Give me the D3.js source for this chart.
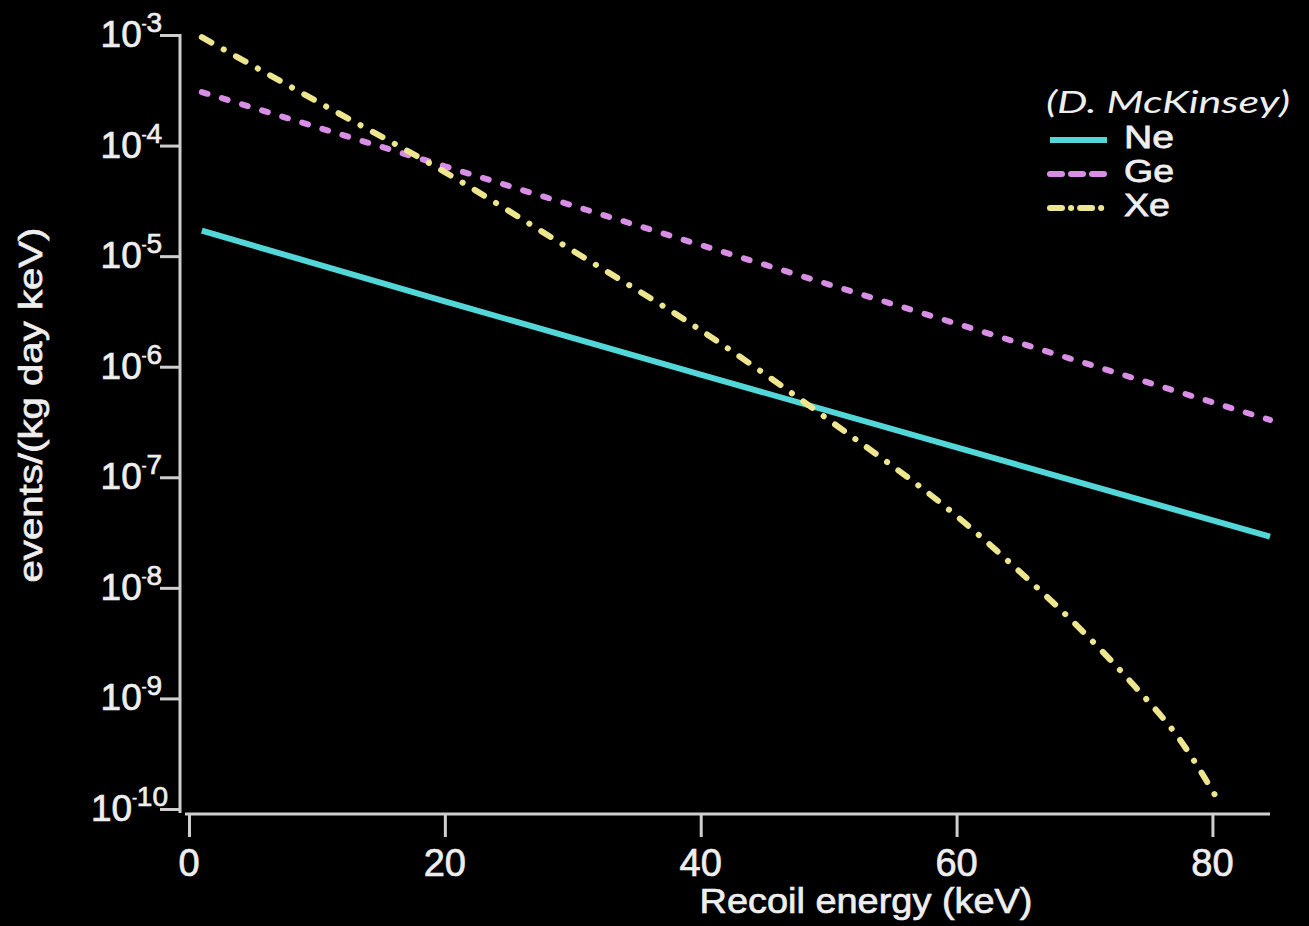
<!DOCTYPE html>
<html>
<head>
<meta charset="utf-8">
<script src="https://cdn.jsdelivr.net/npm/d3@7"></script>
<style>
  html, body { margin: 0; padding: 0; background: #000; }
  svg { display: block; }
</style>
</head>
<body>
<div id="chart"></div>
<script>
// data
const neEnergy = [1, 20, 40, 60, 84.5];
const neRate = [1.7e-5, 3.9e-6, 8.5e-7, 1.86e-7, 2.9e-8];

const geEnergy = [1, 20, 40, 60, 84.5];
const geRate = [3.05e-4, 6.5e-5, 1.26e-5, 2.45e-6, 3.3e-7];

const xeEnergy = [1, 10, 20, 30, 40, 50, 60, 65, 70, 74, 77.5, 80.5];
const xeRate = [9.55e-4, 2.51e-4, 5.75e-5, 1.12e-5, 2.14e-6, 3.31e-7, 4.47e-8, 1.38e-8, 3.89e-9, 1.26e-9, 4.17e-10, 1.17e-10];

const xTicks = [0, 20, 40, 60, 80];
const yExponents = [-3, -4, -5, -6, -7, -8, -9, -10];

const seriesNames = ["Ne", "Ge", "Xe"];
const seriesColors = ["#52d6d8", "#d98ee6", "#eee68e"];
const seriesDash = [null, "6 15", "11 14 0.1 14"];

const width = 1309, height = 926;
const axisColor = "#cfcfcf", textColor = "#eeeeee";
const sans = "'Liberation Sans', Arial, sans-serif";

const svg = d3.select("#chart").append("svg")
  .attr("width", width)
  .attr("height", height);

svg.append("rect").attr("width", width).attr("height", height).attr("fill", "#000");

const x = d3.scaleLinear().domain([0, 84.5]).range([189, 1270]);
const y = d3.scaleLog().domain([1e-10, 1e-3]).range([809, 35]);

// axes
const yAxis = d3.axisLeft(y)
  .tickValues(yExponents.map(e => Math.pow(10, e)))
  .tickSize(20)
  .tickSizeOuter(0)
  .tickFormat("");
const gy = svg.append("g").attr("transform", "translate(180,0)").call(yAxis);
gy.select(".domain").remove();
gy.selectAll(".tick line").attr("stroke", axisColor).attr("stroke-width", 3);

const xAxis = d3.axisBottom(x)
  .tickValues(xTicks)
  .tickSize(24)
  .tickSizeOuter(0)
  .tickFormat("");
const gx = svg.append("g").attr("transform", "translate(0,813)").call(xAxis);
gx.select(".domain").remove();
gx.selectAll(".tick line").attr("stroke", axisColor).attr("stroke-width", 3);

svg.append("line")
  .attr("x1", 180).attr("x2", 180).attr("y1", 34).attr("y2", 813)
  .attr("stroke", axisColor).attr("stroke-width", 3);
svg.append("line")
  .attr("x1", 185).attr("x2", 1270).attr("y1", 814).attr("y2", 814)
  .attr("stroke", axisColor).attr("stroke-width", 3);

// y tick labels, 10 with superscript exponent
const yLabels = svg.append("g")
  .attr("font-family", sans)
  .attr("fill", textColor)
  .attr("stroke", textColor)
  .attr("stroke-width", 0.7);
yExponents.forEach(e => {
  const t = yLabels.append("text")
    .attr("x", e === -10 ? 168 : 162)
    .attr("y", y(Math.pow(10, e)) + 12)
    .attr("text-anchor", "end");
  t.append("tspan").attr("font-size", 37).text("10");
  t.append("tspan").attr("font-size", 14).attr("dy", -18).text("-");
  t.append("tspan").attr("font-size", 28).attr("dy", 3).text(String(-e));
});

// x tick labels
svg.append("g")
  .selectAll("text")
  .data(xTicks)
  .join("text")
  .attr("x", d => x(d))
  .attr("y", 876)
  .attr("text-anchor", "middle")
  .attr("font-family", sans)
  .attr("font-size", 38)
  .attr("fill", textColor)
  .attr("stroke", textColor)
  .attr("stroke-width", 0.7)
  .text(d => d);

// axis titles
svg.append("text")
  .attr("x", 866).attr("y", 913)
  .attr("text-anchor", "middle")
  .attr("font-family", sans)
  .attr("font-size", 35)
  .attr("textLength", 333)
  .attr("lengthAdjust", "spacingAndGlyphs")
  .attr("fill", textColor)
  .attr("stroke", textColor)
  .attr("stroke-width", 0.7)
  .text("Recoil energy (keV)");

svg.append("text")
  .attr("transform", "translate(42,405) rotate(-90)")
  .attr("text-anchor", "middle")
  .attr("font-family", sans)
  .attr("font-size", 34)
  .attr("textLength", 355)
  .attr("lengthAdjust", "spacingAndGlyphs")
  .attr("fill", textColor)
  .attr("stroke", textColor)
  .attr("stroke-width", 0.7)
  .text("events/(kg day keV)");

// curves
const line = d3.line()
  .x(d => x(d[0]))
  .y(d => y(d[1]))
  .curve(d3.curveMonotoneX);

const series = [
  d3.zip(neEnergy, neRate),
  d3.zip(geEnergy, geRate),
  d3.zip(xeEnergy, xeRate)
];

svg.append("g")
  .selectAll("path")
  .data(series)
  .join("path")
  .attr("d", line)
  .attr("fill", "none")
  .attr("stroke", (d, i) => seriesColors[i])
  .attr("stroke-width", 6)
  .attr("stroke-linecap", (d, i) => i === 0 ? "butt" : "round")
  .attr("stroke-dasharray", (d, i) => seriesDash[i]);

// credit + legend
svg.append("text")
  .attr("x", 1046).attr("y", 113)
  .attr("font-family", "Lato, 'Open Sans', sans-serif")
  .attr("font-style", "italic")
  .attr("font-weight", 400)
  .attr("font-size", 31)
  .attr("textLength", 244)
  .attr("lengthAdjust", "spacingAndGlyphs")
  .attr("fill", textColor)
  .text("(D. McKinsey)");

const legend = svg.append("g")
  .selectAll("g")
  .data(seriesNames)
  .join("g")
  .attr("transform", (d, i) => `translate(0,${148 + i * 34})`);

legend.append("line")
  .attr("x1", 1050).attr("x2", 1107)
  .attr("y1", -8).attr("y2", -8)
  .attr("stroke", (d, i) => seriesColors[i])
  .attr("stroke-width", 6)
  .attr("stroke-linecap", (d, i) => i === 0 ? "butt" : "round")
  .attr("stroke-dasharray", (d, i) => i === 0 ? null : (i === 1 ? "12 9" : "12 9 0.1 9"));

legend.append("text")
  .attr("x", 1124)
  .attr("font-family", sans)
  .attr("font-size", 32)
  .attr("textLength", (d, i) => i === 2 ? 46 : 50)
  .attr("lengthAdjust", "spacingAndGlyphs")
  .attr("fill", textColor)
  .attr("stroke", textColor)
  .attr("stroke-width", 0.8)
  .text(d => d);
</script>
</body>
</html>
